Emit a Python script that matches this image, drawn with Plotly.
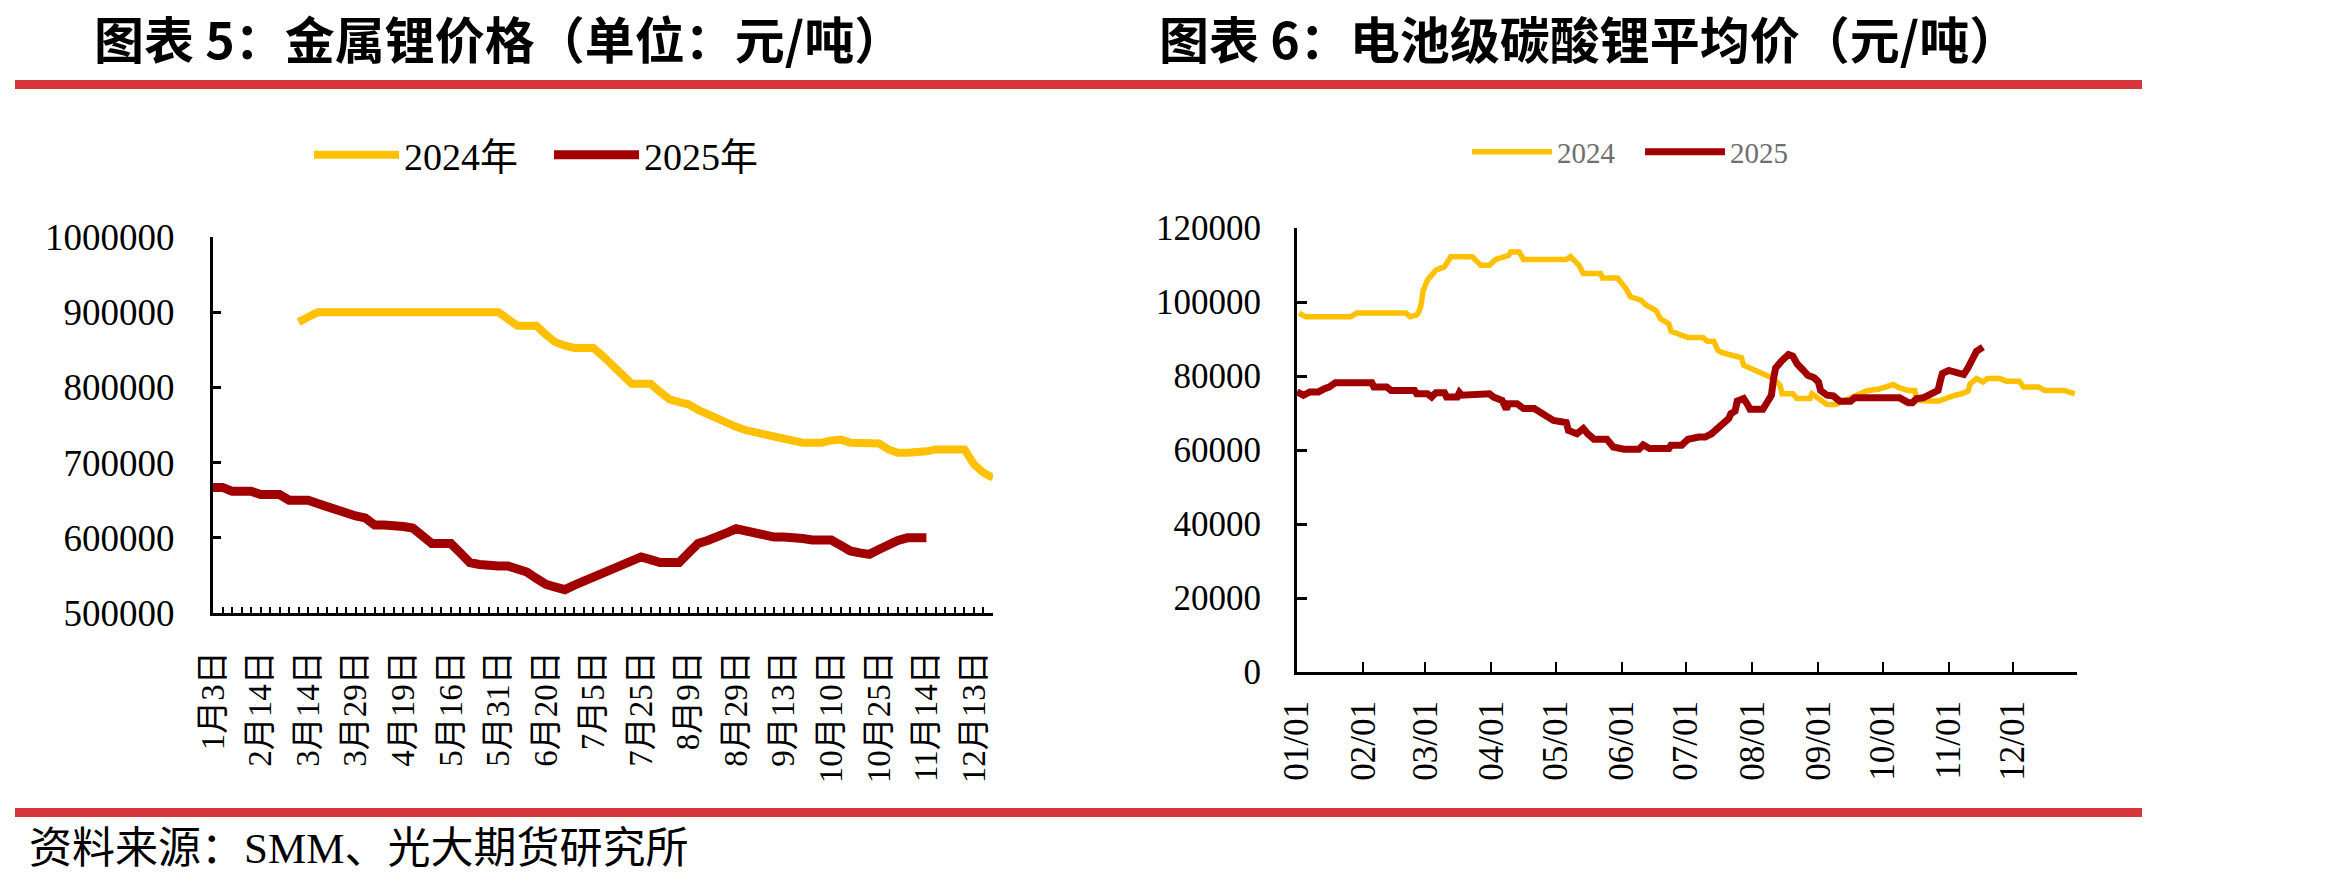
import plotly.graph_objects as go

# ---------------- Left chart: 金属锂价格 ----------------
dates_left = [
    "1月3日", "1月10日", "1月17日", "1月24日", "2月7日",
    "2月14日", "2月21日", "2月28日", "3月4日", "3月11日",
    "3月14日", "3月17日", "3月20日", "3月23日", "3月26日",
    "3月29日", "4月3日", "4月7日", "4月11日", "4月15日",
    "4月19日", "4月24日", "4月30日", "5月6日", "5月11日",
    "5月16日", "5月19日", "5月22日", "5月25日", "5月28日",
    "5月31日", "6月4日", "6月8日", "6月12日", "6月16日",
    "6月20日", "6月23日", "6月26日", "6月29日", "7月2日",
    "7月5日", "7月9日", "7月13日", "7月17日", "7月21日",
    "7月25日", "7月28日", "7月31日", "8月3日", "8月6日",
    "8月9日", "8月13日", "8月17日", "8月21日", "8月25日",
    "8月29日", "9月1日", "9月4日", "9月7日", "9月10日",
    "9月13日", "9月18日", "9月23日", "9月28日", "10月5日",
    "10月10日", "10月13日", "10月16日", "10月19日", "10月22日",
    "10月25日", "10月29日", "11月2日", "11月6日", "11月10日",
    "11月14日", "11月20日", "11月26日", "12月2日", "12月8日",
    "12月13日", "12月18日", "12月23日",
]
metal_2024 = [
    None, None, None, None, None, None, None, None, None, 887000,
    895000, 900000, 900000, 900000, 900000, 900000, 900000, 900000, 900000, 900000,
    900000, 900000, 900000, 900000, 900000, 900000, 900000, 900000, 900000, 900000,
    900000, 891000, 882000, 882000, 882000, 870000, 860000, 855500, 852500, 852500,
    852500, 841500, 829000, 816500, 805000, 805000, 805000, 794000, 784000, 780500,
    777500, 770000, 764000, 757500, 752000, 747500, 743000, 740500, 738500, 734000,
    731000, 728500, 726500, 726500, 726500, 729500, 730500, 726500, 725500, 725500,
    725500, 717500, 713000, 713000, 713000, 715000, 717500, 717500, 717500, 717500,
    697500, 686500, 680000,
]
metal_2025 = [
    667000, 667000, 662000, 662000, 662000, 657500, 657500, 657500, 650000, 650000,
    650000, 645500, 641000, 637000, 633000, 629000, 626500, 617000, 617000, 617000,
    615000, 613000, 603000, 592500, 592500, 592500, 580000, 567000, 564500, 562500,
    562500, 562500, 559000, 554500, 546000, 538000, 534500, 531000, 537000, 542500,
    546000, 552000, 556000, 562500, 569000, 574500, 571000, 567000, 567000, 567000,
    580000, 592500, 596500, 600000, 606500, 612000, 609000, 604500, 602000, 601000,
    601000, 601000, 599000, 597000, 597000, 597000, 590000, 582500, 580000, 578000,
    584500, 591000, 596500, 600000, 600000, 600000,
]
left_label_step = 5

# ---------------- Right chart: 电池级碳酸锂平均价 ----------------
li2co3_2024_dates = [
    "01-02", "01-05", "01-26", "01-29", "02-21", "02-23", "02-26", "02-27", "02-28", "02-29",
    "03-02", "03-06", "03-10", "03-13", "03-23", "03-27", "03-31", "04-03", "04-09", "04-10",
    "04-14", "04-16", "05-06", "05-08", "05-12", "05-14", "05-22", "05-23", "05-30", "06-03",
    "06-05", "06-10", "06-12", "06-17", "06-19", "06-23", "06-24", "06-28", "07-02", "07-09",
    "07-11", "07-14", "07-16", "07-18", "07-23", "07-27", "07-28", "08-01", "08-04", "08-08",
    "08-11", "08-14", "08-15", "08-20", "08-22", "08-28", "08-29", "09-01", "09-05", "09-09",
    "09-14", "09-19", "09-24", "09-29", "10-06", "10-09", "10-13", "10-16", "10-17", "10-27",
    "10-30", "11-04", "11-07", "11-10", "11-11", "11-14", "11-17", "11-19", "11-25", "11-28",
    "12-04", "12-06", "12-13", "12-16", "12-25", "12-30",
]
li2co3_2024 = [
    97000, 96000, 96000, 97000, 97000, 96000, 96500, 97300, 99000, 103000,
    105900, 108600, 109500, 112200, 112200, 109900, 109900, 111500, 112600, 113500,
    113500, 111500, 111500, 112300, 109900, 107700, 107700, 106500, 106500, 103600,
    101400, 100500, 99300, 97700, 95500, 94100, 92100, 91400, 90400, 90400,
    89400, 89400, 86900, 86300, 85600, 84900, 82900, 81800, 81100, 80000,
    79300, 77500, 75200, 75200, 73900, 73900, 75200, 73900, 72300, 72300,
    73500, 74500, 76100, 76400, 77700, 76800, 76100, 76100, 73400, 73200,
    73900, 74800, 75200, 75900, 77900, 79300, 78400, 79300, 79300, 78600,
    78600, 77000, 77000, 76100, 76100, 75200,
]
li2co3_2025_dates = [
    "01-01", "01-04", "01-07", "01-11", "01-14", "01-16", "01-19", "02-05", "02-06", "02-12",
    "02-14", "02-25", "02-26", "03-02", "03-04", "03-06", "03-10", "03-11", "03-16", "03-17",
    "03-18", "03-28", "03-31", "04-02", "04-06", "04-08", "04-09", "04-13", "04-16", "04-21",
    "04-25", "04-30", "05-06", "05-07", "05-11", "05-14", "05-16", "05-19", "05-25", "05-28",
    "06-02", "06-09", "06-11", "06-14", "06-23", "06-24", "06-29", "07-02", "07-07", "07-10",
    "07-13", "07-16", "07-18", "07-21", "07-22", "07-24", "07-25", "07-28", "07-30", "07-31",
    "08-06", "08-08", "08-10", "08-11", "08-12", "08-15", "08-18", "08-20", "08-22", "08-25",
    "08-27", "08-30", "09-01", "09-02", "09-05", "09-08", "09-11", "09-16", "09-18", "10-09",
    "10-13", "10-15", "10-17", "10-20", "10-24", "10-27", "10-28", "10-29", "11-01", "11-03",
    "11-08", "11-10", "11-12", "11-13", "11-14", "11-17",
]
li2co3_2025 = [
    75700, 74800, 75700, 75700, 76600, 77000, 78200, 78200, 77000, 77000,
    76100, 76100, 75200, 75200, 74300, 75500, 75500, 74300, 74300, 75500,
    74800, 74800, 75200, 74300, 73400, 71000, 72500, 72500, 71200, 71200,
    69800, 68000, 67400, 65300, 64400, 65800, 64400, 62900, 62900, 60800,
    60200, 60200, 61400, 60400, 60400, 61300, 61300, 62900, 63500, 63500,
    64400, 65800, 67100, 68500, 69800, 70500, 73200, 73900, 72100, 71000,
    71000, 73000, 74800, 79300, 82200, 84200, 85800, 85400, 83300, 81500,
    80200, 79500, 78400, 76100, 74800, 74600, 73200, 73200, 74100, 74100,
    72800, 72800, 73900, 74100, 75500, 76100, 78600, 80700, 81500, 81300,
    80400, 82200, 84200, 85600, 86700, 87800,
]
axis_year = "2024"  # common calendar used to overlay both years
month_ticks = ["01-01", "02-01", "03-01", "04-01", "05-01", "06-01",
               "07-01", "08-01", "09-01", "10-01", "11-01", "12-01", "12-31"]
month_tick_text = ["01/01", "02/01", "03/01", "04/01", "05/01", "06/01",
                   "07/01", "08/01", "09/01", "10/01", "11/01", "12/01", ""]

YELLOW = "#FFC000"
DARKRED = "#A00000"
BARRED = "#D5353B"
SERIF = "Liberation Serif, Noto Sans CJK SC"
W, H = 2332, 881


def px(x):
    return x / W


def py(y):
    return 1 - y / H


fig = go.Figure()

fig.add_trace(go.Scatter(x=dates_left, y=metal_2024, name="2024年", mode="lines",
                         line=dict(color=YELLOW, width=8), xaxis="x", yaxis="y",
                         legend="legend"))
fig.add_trace(go.Scatter(x=dates_left, y=metal_2025, name="2025年", mode="lines",
                         line=dict(color=DARKRED, width=9), xaxis="x", yaxis="y",
                         legend="legend"))

fig.add_trace(go.Scatter(x=[axis_year + "-" + d for d in li2co3_2024_dates], y=li2co3_2024,
                         name="2024", mode="lines", line=dict(color=YELLOW, width=5.5),
                         xaxis="x2", yaxis="y2", legend="legend2"))
fig.add_trace(go.Scatter(x=[axis_year + "-" + d for d in li2co3_2025_dates], y=li2co3_2025,
                         name="2025", mode="lines", line=dict(color=DARKRED, width=7),
                         xaxis="x2", yaxis="y2", legend="legend2"))

left_ticktext = [d if i % left_label_step == 0 else "" for i, d in enumerate(dates_left)]

axis_common = dict(showline=True, linecolor="black", linewidth=3, showgrid=False,
                   zeroline=False, ticks="inside", tickcolor="black", automargin=False)

fig.update_layout(
    width=W, height=H, autosize=False,
    margin=dict(l=0, r=0, t=0, b=0, pad=0),
    paper_bgcolor="white", plot_bgcolor="white",
    font=dict(family=SERIF, color="black"),
    xaxis=dict(domain=[px(213), px(993)], type="category", categoryorder="array",
               categoryarray=dates_left, tickmode="array", tickvals=dates_left,
               ticktext=left_ticktext, range=[0, len(dates_left) - 1], tickangle=-90,
               ticklen=6, tickwidth=2, tickfont=dict(size=33, family=SERIF),
               ticklabelstandoff=22, anchor="y", **axis_common),
    yaxis=dict(domain=[py(613), py(237)], range=[500000, 1000000], dtick=100000,
               tickformat="d", ticklen=8, tickwidth=3,
               tickfont=dict(size=37, family=SERIF), ticklabelstandoff=28,
               anchor="x", **axis_common),
    xaxis2=dict(domain=[px(1297), px(2077)], type="date",
                range=[axis_year + "-01-01", axis_year + "-12-31"], tickmode="array",
                tickvals=[axis_year + "-" + d for d in month_ticks], ticktext=month_tick_text,
                tickangle=-90, ticklen=10, tickwidth=2, tickfont=dict(size=35, family=SERIF),
                ticklabelstandoff=12, anchor="y2", **axis_common),
    yaxis2=dict(domain=[py(672), py(228)], range=[0, 120000], dtick=20000, tickformat="d",
                ticklen=10, tickwidth=3, tickfont=dict(size=35, family=SERIF),
                ticklabelstandoff=26, anchor="x2", **axis_common),
    legend=dict(x=px(309), y=py(155), xanchor="left", yanchor="middle", orientation="h",
                font=dict(size=38, family=SERIF, color="black"), bgcolor="rgba(0,0,0,0)",
                itemwidth=85, entrywidth=140, tracegroupgap=0),
    legend2=dict(x=px(1467), y=py(152), xanchor="left", yanchor="middle", orientation="h",
                 font=dict(size=29, family=SERIF, color="#6E6E6E"), bgcolor="rgba(0,0,0,0)",
                 itemwidth=80, entrywidth=78, tracegroupgap=0),
    showlegend=True,
)

# red separator bars
fig.add_shape(type="rect", xref="paper", yref="paper", x0=px(15), x1=px(2142),
              y0=py(89), y1=py(80), fillcolor=BARRED, line=dict(width=0), layer="below")
fig.add_shape(type="rect", xref="paper", yref="paper", x0=px(15), x1=px(2142),
              y0=py(817), y1=py(808), fillcolor=BARRED, line=dict(width=0), layer="below")

# titles
fig.add_annotation(text="<b>图表 5：金属锂价格（单位：元/吨）</b>", xref="paper", yref="paper",
                   x=px(92), y=py(37), xanchor="left", yanchor="middle", showarrow=False,
                   font=dict(size=50, family="Noto Sans CJK SC", color="black"))
fig.add_annotation(text="<b>图表 6：电池级碳酸锂平均价（元/吨）</b>", xref="paper", yref="paper",
                   x=px(1157), y=py(37), xanchor="left", yanchor="middle", showarrow=False,
                   font=dict(size=50, family="Noto Sans CJK SC", color="black"))
# source
fig.add_annotation(text="资料来源：SMM、光大期货研究所", xref="paper", yref="paper",
                   x=px(27), y=py(848), xanchor="left", yanchor="middle", showarrow=False,
                   font=dict(size=43, family=SERIF, color="black"))

fig.write_html("out.html")
